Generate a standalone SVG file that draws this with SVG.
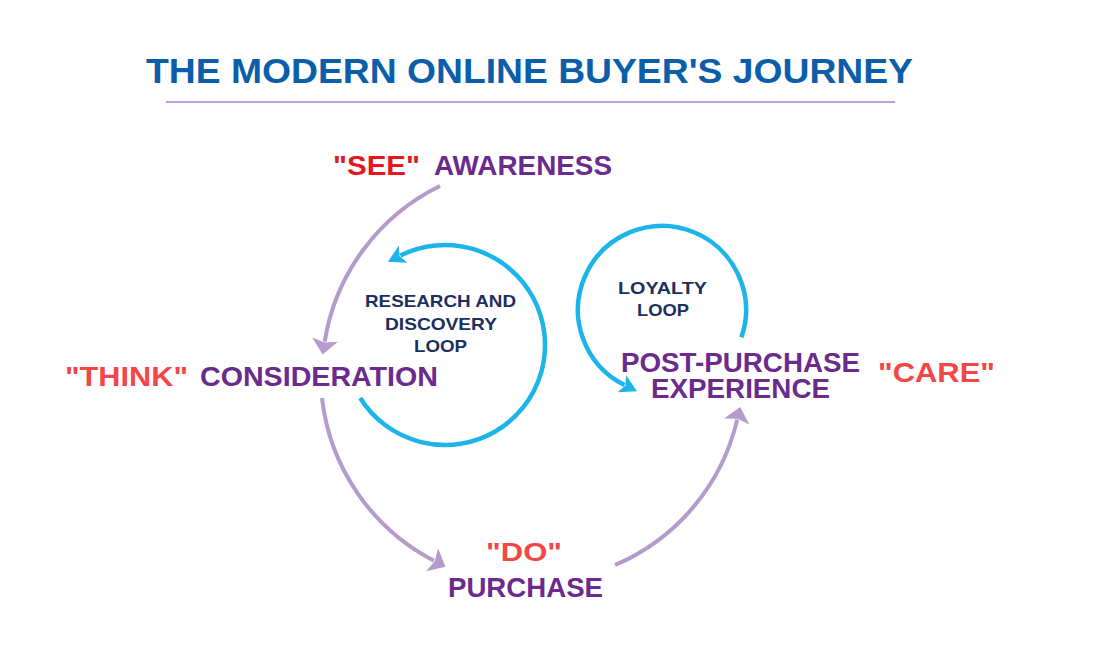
<svg xmlns="http://www.w3.org/2000/svg" width="1103" height="648" viewBox="0 0 1103 648">
<style>
text{font-family:"Liberation Sans",Arial,sans-serif;font-weight:bold;}
.title{font-size:35px;fill:#0b5ea9;}
.lbl{font-size:28px;fill:#6b2a8d;}
.q{font-size:28px;fill:#f34747;}
.see{fill:#e5161e;}
.small{font-size:17px;fill:#1b2f5e;}
.pc{fill:none;stroke:#b49bcc;stroke-width:4;}
.bc{fill:none;stroke:#1db4e9;stroke-width:4.5;}
</style>
<defs>
<marker id="ap" markerUnits="userSpaceOnUse" viewBox="-4 -15 20 30" refX="0" refY="0" markerWidth="20" markerHeight="30" orient="auto">
<path d="M-2,-13 L13,0 L-2,13 L1,0 Z" fill="#b49bcc"/>
</marker>
<marker id="ab" markerUnits="userSpaceOnUse" viewBox="-4 -11 20 22" refX="0" refY="0" markerWidth="20" markerHeight="22" orient="auto">
<path d="M-3,-9.5 L14,0 L-3,9.5 L1,0 Z" fill="#1db4e9"/>
</marker>
</defs>
<g id="title">
<text class="title" x="146" y="83" textLength="767" lengthAdjust="spacingAndGlyphs">THE MODERN ONLINE BUYER'S JOURNEY</text>
<line x1="166" y1="102" x2="895" y2="102" stroke="#b9a2d8" stroke-width="2"/>
</g>
<g id="connectors">
<path class="pc" d="M440,186 A210,210 0 0 0 324.7,341.6" marker-end="url(#ap)"/>
<path class="pc" d="M322,398 A210,210 0 0 0 433.9,560.7" marker-end="url(#ap)"/>
<path class="pc" d="M615,565 A210,210 0 0 0 737.2,419.6" marker-end="url(#ap)"/>
<path class="bc" d="M360.2,398 A100,100 0 1 0 400.4,255.5" marker-end="url(#ab)"/>
<path class="bc" d="M741.4,337.3 A84,84 0 1 0 624.5,385.1" marker-end="url(#ab)"/>
</g>
<g id="awareness">
<text class="q see" x="333" y="175" textLength="87" lengthAdjust="spacingAndGlyphs">"SEE"</text>
<text class="lbl" x="434" y="175" textLength="178" lengthAdjust="spacingAndGlyphs">AWARENESS</text>
</g>
<g id="consideration">
<text class="q" x="65" y="386" textLength="123" lengthAdjust="spacingAndGlyphs">"THINK"</text>
<text class="lbl" x="200" y="386" textLength="238" lengthAdjust="spacingAndGlyphs">CONSIDERATION</text>
</g>
<g id="purchase">
<text class="q" x="486" y="561" font-size="25" style="font-size:25px" textLength="76" lengthAdjust="spacingAndGlyphs">"DO"</text>
<text class="lbl" x="448" y="597" textLength="155" lengthAdjust="spacingAndGlyphs">PURCHASE</text>
</g>
<g id="post-purchase">
<text class="lbl" x="621" y="372" style="font-size:27px" textLength="239" lengthAdjust="spacingAndGlyphs">POST-PURCHASE</text>
<text class="lbl" x="651" y="398" style="font-size:27px" textLength="179" lengthAdjust="spacingAndGlyphs">EXPERIENCE</text>
<text class="q" x="878" y="382" textLength="117" lengthAdjust="spacingAndGlyphs">"CARE"</text>
</g>
<g id="research-loop">
<text class="small" x="365" y="307" textLength="151" lengthAdjust="spacingAndGlyphs">RESEARCH AND</text>
<text class="small" x="385" y="330" textLength="112" lengthAdjust="spacingAndGlyphs">DISCOVERY</text>
<text class="small" x="414" y="352" textLength="53" lengthAdjust="spacingAndGlyphs">LOOP</text>
</g>
<g id="loyalty-loop">
<text class="small" x="618" y="294" textLength="89" lengthAdjust="spacingAndGlyphs">LOYALTY</text>
<text class="small" x="637" y="316" textLength="52" lengthAdjust="spacingAndGlyphs">LOOP</text>
</g>
</svg>
